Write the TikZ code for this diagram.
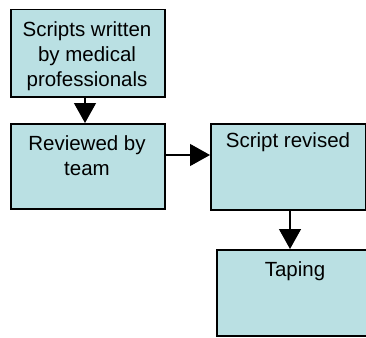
\documentclass[tikz,border=0pt]{standalone}
\usepackage{fontspec}
\setmainfont{Liberation Sans}
\usetikzlibrary{arrows.meta,positioning}
\definecolor{boxfill}{RGB}{186,224,227}
\tikzset{
  box/.style={draw=black, line width=1.5pt, fill=boxfill, rectangle, inner sep=0pt, anchor=north west},
  lbl/.style={align=center, inner sep=0pt, anchor=north, font=\fontsize{20.5}{25.3}\selectfont},
  arr/.style={draw=black, line width=1.3pt, -{Triangle[length=20pt,width=22pt]}}
}
\begin{document}
\begin{tikzpicture}[x=1pt,y=-1pt]
\useasboundingbox (0,0) rectangle (366,337);
\node[box, minimum width=154pt, minimum height=87pt] (b1) at (10,9) {};
\node[box, minimum width=154pt, minimum height=85pt] (b2) at (10,123) {};
\node[box, minimum width=155pt, minimum height=86pt] (b3) at (210,123) {};
\node[box, minimum width=158pt, minimum height=86pt] (b4) at (216,249) {};
\node[lbl] (t1) at (87,21) {Scripts written\\by medical\\professionals};
\node[lbl] (t2) at (87,135) {Reviewed by\\team};
\node[lbl] (t3) at (288,132) {Script revised};
\node[lbl] (t4) at (295,261) {Taping};
\coordinate (a1s) at (85,95);
\coordinate (a2s) at (164,155);
\coordinate (a3s) at (290,209);
\draw[arr] (b1.south -| a1s) -- (b2.north -| a1s);
\draw[arr] (b2.east |- a2s) -- (b3.west |- a2s);
\draw[arr] (b3.south -| a3s) -- (b4.north -| a3s);
\end{tikzpicture}
\end{document}
